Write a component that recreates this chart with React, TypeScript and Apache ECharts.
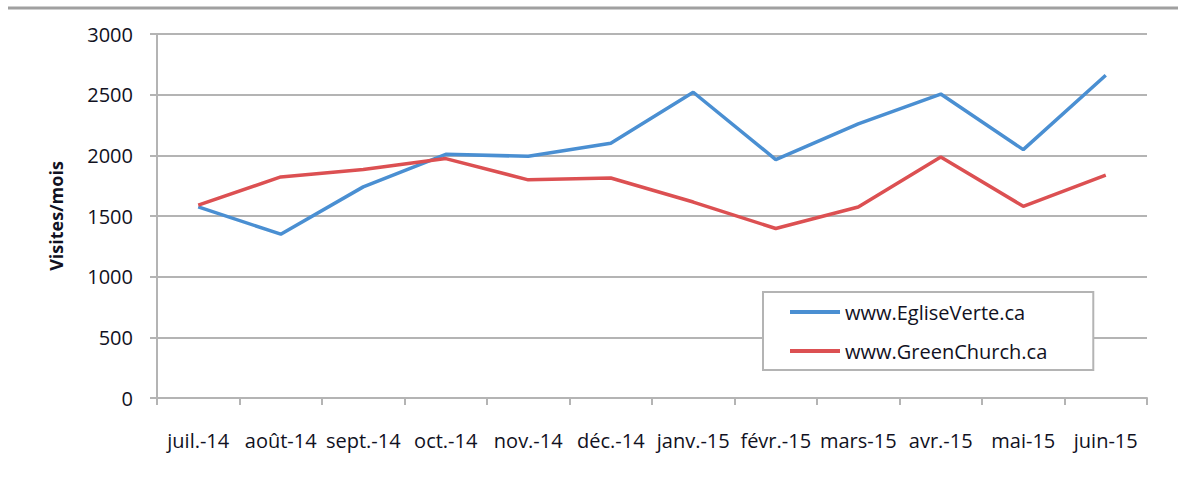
import React, { useEffect, useRef } from "react";
import * as echarts from "echarts";

const categories = [
  "juil.-14", "août-14", "sept.-14", "oct.-14", "nov.-14", "déc.-14",
  "janv.-15", "févr.-15", "mars-15", "avr.-15", "mai-15", "juin-15",
];
const egliseVerte = [1575, 1350, 1740, 2008, 1992, 2100, 2520, 1965, 2260, 2505, 2047, 2660];
const greenChurch = [1590, 1822, 1883, 1973, 1798, 1813, 1615, 1397, 1574, 1986, 1580, 1836];
const seriesNames = ["www.EgliseVerte.ca", "www.GreenChurch.ca"];
const yTicks = { min: 0, max: 3000, interval: 500 };

const FONT = "'Open Sans', sans-serif";
const TEXT = "#111122";
const GRID = "#b4b4b4";

export default function App() {
  const ref = useRef<HTMLDivElement>(null);
  useEffect(() => {
    if (!ref.current) return;
    const chart = echarts.init(ref.current, undefined, { renderer: "svg" });
    chart.setOption({
      animation: false,
      backgroundColor: "#ffffff",
      graphic: [
        {
          type: "line",
          shape: { x1: 8, y1: 8, x2: 1178, y2: 8 },
          style: { stroke: "#a0a0a0", lineWidth: 3 },
        },
      ],
      grid: { left: 157, right: 31, top: 34, bottom: 99, containLabel: false },
      legend: {
        orient: "vertical",
        left: 763,
        top: 292,
        data: seriesNames,
        icon: "rect",
        itemWidth: 50,
        itemHeight: 4,
        itemGap: 19,
        padding: [10, 46, 9, 27],
        backgroundColor: "#ffffff",
        borderColor: "#b4b4b4",
        borderWidth: 2,
        textStyle: { fontFamily: FONT, fontSize: 20, color: TEXT },
      },
      xAxis: {
        type: "category",
        data: categories,
        boundaryGap: true,
        axisLine: { show: true, lineStyle: { color: GRID, width: 2 } },
        axisTick: { show: true, length: 7, lineStyle: { color: GRID, width: 2 } },
        axisLabel: { fontFamily: FONT, fontSize: 20, color: TEXT, margin: 32, interval: 0 },
        splitLine: { show: false },
      },
      yAxis: {
        type: "value",
        min: yTicks.min,
        max: yTicks.max,
        interval: yTicks.interval,
        name: "Visites/mois",
        nameLocation: "middle",
        nameGap: 92,
        nameRotate: 90,
        nameTextStyle: { fontFamily: FONT, fontSize: 18, fontWeight: "bold", color: TEXT },
        axisLine: { show: true, lineStyle: { color: GRID, width: 2 } },
        axisTick: { show: true, length: 7, lineStyle: { color: GRID, width: 2 } },
        axisLabel: {
          fontFamily: FONT,
          fontSize: 20,
          color: TEXT,
          margin: 24,
          formatter: (v: number) => String(v),
        },
        splitLine: { show: true, lineStyle: { color: GRID, width: 2 } },
      },
      series: [
        {
          name: seriesNames[0],
          type: "line",
          data: egliseVerte,
          symbol: "none",
          lineStyle: { color: "#4a8fd2", width: 3.5 },
          itemStyle: { color: "#4a8fd2" },
        },
        {
          name: seriesNames[1],
          type: "line",
          data: greenChurch,
          symbol: "none",
          lineStyle: { color: "#dc5052", width: 3.5 },
          itemStyle: { color: "#dc5052" },
        },
      ],
    });
    return () => chart.dispose();
  }, []);
  return (
    <div
      ref={ref}
      style={{ position: "fixed", left: 0, top: 0, width: 1178, height: 497 }}
    />
  );
}
